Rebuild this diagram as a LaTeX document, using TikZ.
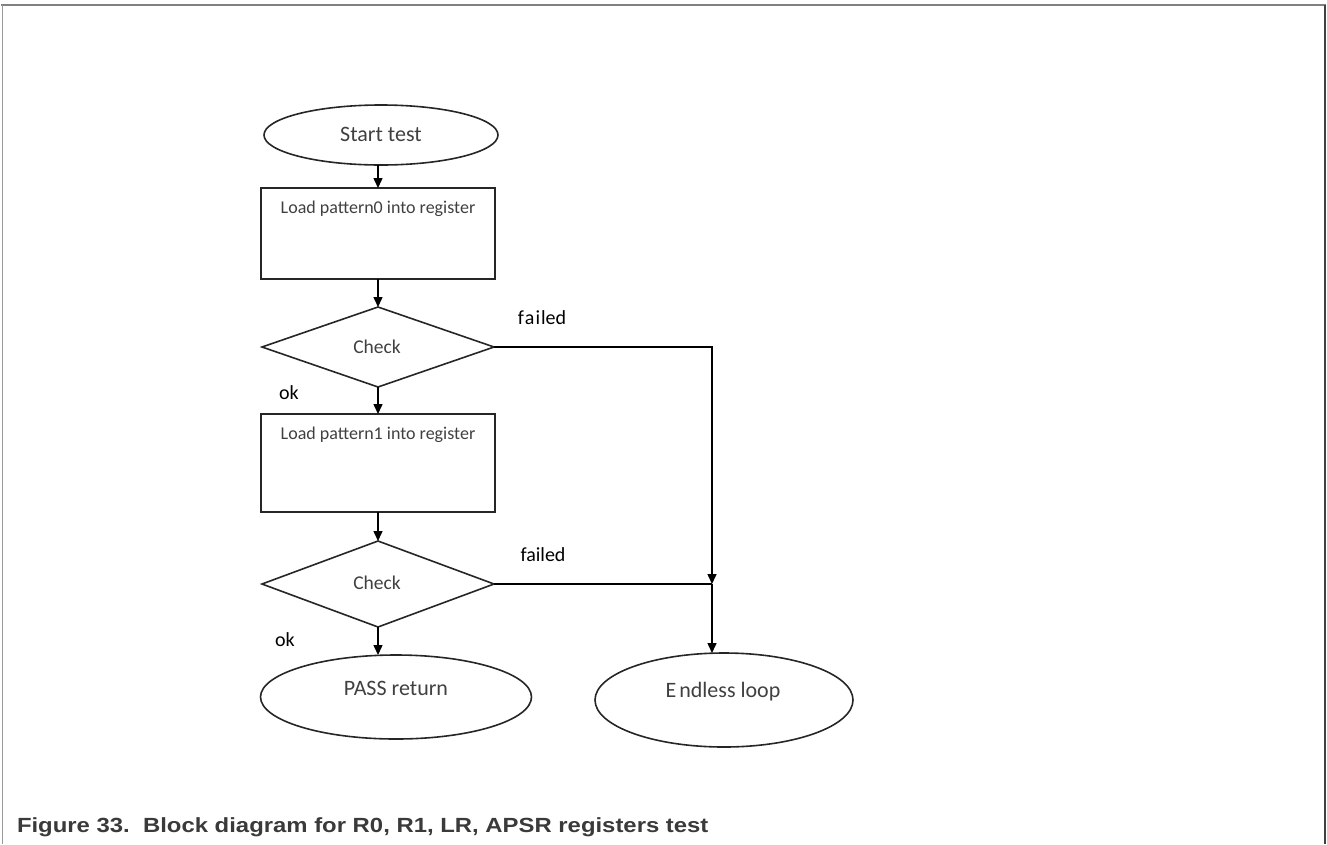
\documentclass[tikz,border=0pt]{standalone}
\usepackage{fontspec}
\setmainfont{Carlito}
\newfontfamily\capfont{Liberation Sans}
\usetikzlibrary{shapes.geometric,arrows.meta}
\definecolor{txt}{HTML}{404040}
\definecolor{capc}{HTML}{3A3A3A}
\tikzset{
  every node/.style={inner sep=0pt, outer sep=0pt},
  shape line/.style={draw=black!85, line width=1.6pt},
  term/.style={shape line, ellipse},
  procbox/.style={shape line, rectangle, minimum width=234pt},
  decide/.style={shape line, diamond, minimum width=232pt},
  lbl/.style={text=txt, font=\fontsize{22}{26}\selectfont},
  smalllbl/.style={text=txt, font=\fontsize{18}{21}\selectfont},
  checklbl/.style={text=txt, font=\fontsize{19.5}{22}\selectfont},
  branch/.style={text=black, font=\fontsize{20}{23}\selectfont},
  conn/.style={draw=black, line width=1.5pt},
  arr/.style={conn, -{Triangle[length=10pt,width=9pt]}},
}
\begin{document}
\begin{tikzpicture}[x=1pt,y=-1pt]
\useasboundingbox (0,0) rectangle (1327,844);
% frame
\draw[gray, line width=2pt] (1,5) -- (1326,5);
\draw[gray!80, line width=1pt] (2,5) -- (2,844);
\draw[black!75, line width=2pt] (1325,5) -- (1325,844);

% nodes
\node[term, minimum width=234pt, minimum height=60pt] (start) at (381,135) {};
\node[lbl] (startt) at (381,134) {Start test};

\node[procbox, minimum height=91pt] (box1) at (378,233.5) {};
\node[smalllbl] (box1t) at (378,209) {Load pattern0 into register};

\node[decide, minimum height=80pt] (d1) at (378,347) {};
\node[checklbl] (d1t) at (377,347) {Check};

\node[procbox, minimum height=98pt] (box2) at (378,463) {};
\node[smalllbl] (box2t) at (378,435) {Load pattern1 into register};

\node[decide, minimum height=86pt] (d2) at (378,584) {};
\node[checklbl] (d2t) at (377,583) {Check};

\node[term, minimum width=271pt, minimum height=84pt] (pass) at (396,697) {};
\node[lbl] (passt) at (396,688) {PASS return};

\node[term, minimum width=258pt, minimum height=94pt] (endl) at (724,700) {};
\node[lbl] (endlt) at (723,692) {E\kern3pt ndless loop};

\coordinate (J) at (712,584);

% labels
\node[branch] (ok1) at (289,393) {ok};
\node[branch] (ok2) at (285,640) {ok};
\node[branch] (f1) at (542,318) {f\kern1pt a\kern1pt i\kern1pt led};
\node[branch] (f2) at (543,555) {failed};

% connectors
\draw[arr] (start.south -| box1.north) -- (box1.north);
\draw[arr] (box1.south) -- (d1.north);
\draw[arr] (d1.south) -- (box2.north);
\draw[arr] (box2.south) -- (d2.north);
\draw[arr] (d2.south) -- (d2.south |- pass.north);
\draw[arr] (d1.east) -| (J);
\draw[conn] (d2.east) -- (J);
\draw[arr] (J) -- (J |- endl.north);

% caption
\node[anchor=base west, text=capc, font=\capfont\bfseries\fontsize{20.5}{24}\selectfont] (cap) at (17,832) {\scalebox{1.165}[1]{Figure 33.\ \ Block diagram for R0, R1, LR, APSR registers test}};
\end{tikzpicture}
\end{document}
